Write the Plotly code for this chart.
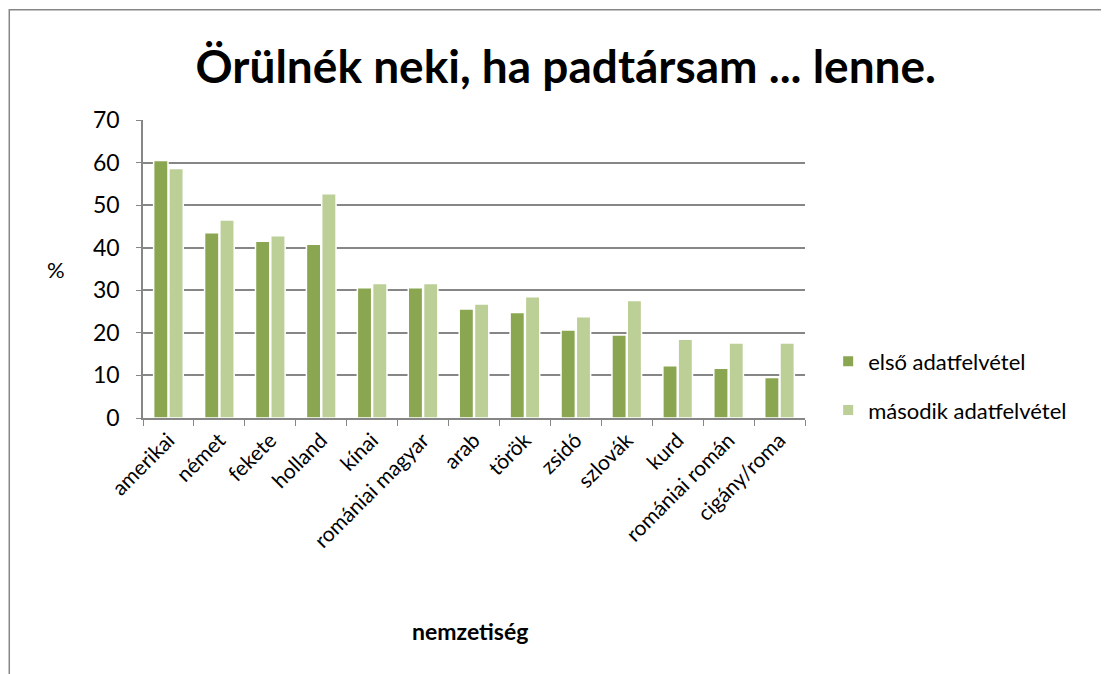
import plotly.graph_objects as go

categories = [
    "amerikai", "német", "fekete", "holland", "kínai", "romániai magyar",
    "arab", "török", "zsidó", "szlovák", "kurd", "romániai román", "cigány/roma",
]
first_survey = [60.5, 43.5, 41.5, 40.8, 30.6, 30.6, 25.6, 24.8, 20.7, 19.5, 12.3, 11.7, 9.5]
second_survey = [58.6, 46.5, 42.8, 52.7, 31.6, 31.6, 26.8, 28.5, 23.8, 27.6, 18.5, 17.6, 17.6]
y_ticks = [0, 10, 20, 30, 40, 50, 60, 70]

font_family = "Lato, 'Open Sans', sans-serif"

fig = go.Figure()

fig.add_trace(
    go.Bar(
        x=categories,
        y=first_survey,
        name="első adatfelvétel",
        legendgroup="a",
        marker=dict(color="#8BA650", line=dict(color="white", width=1.5)),
    )
)
fig.add_trace(
    go.Bar(
        x=categories,
        y=second_survey,
        name="második adatfelvétel",
        legendgroup="b",
        marker=dict(color="#BBCF96", line=dict(color="white", width=1.5)),
    )
)

# outer chart border
fig.add_shape(
    type="rect", xref="paper", yref="paper",
    x0=-0.202, x1=1.453, y0=-0.872, y1=1.37,
    line=dict(color="#868686", width=1.5), layer="below",
)

fig.add_annotation(
    text="%", xref="paper", yref="paper", x=-0.148, y=0.497,
    showarrow=False, font=dict(size=22, color="black"),
)
fig.add_annotation(
    text="<b>nemzetiség</b>", xref="paper", yref="paper", x=0.494, y=-0.77,
    showarrow=False, font=dict(size=23, color="black"),
)

fig.update_layout(
    width=1109,
    height=674,
    margin=dict(l=135, r=312, t=112, b=264),
    paper_bgcolor="white",
    plot_bgcolor="white",
    font=dict(family=font_family, color="black", size=20),
    title=dict(
        text="<b>Örülnék neki, ha padtársam ... lenne.</b>",
        x=0.503, xanchor="center", y=0.912, yanchor="middle",
        font=dict(size=46, color="black"),
    ),
    barmode="group",
    bargap=0.4,
    bargroupgap=0.06,
    showlegend=True,
    legend=dict(
        x=1.035, xanchor="left", y=0.26, yanchor="top",
        font=dict(size=22), tracegroupgap=17, itemsizing="constant",
    ),
    xaxis=dict(
        tickangle=-45,
        showline=True, linecolor="#868686", linewidth=1.5,
        ticks="outside", tickson="boundaries", ticklen=6, tickcolor="#868686",
        tickfont=dict(size=21),
    ),
    yaxis=dict(
        range=[0, 70], tickvals=y_ticks,
        showgrid=True, gridcolor="#868686", gridwidth=1.5,
        showline=True, linecolor="#868686", linewidth=1.5,
        ticks="outside", ticklen=5, tickcolor="#868686",
        tickfont=dict(size=23), ticklabelstandoff=12, zeroline=False,
    ),
)

fig.write_html("out.html")
